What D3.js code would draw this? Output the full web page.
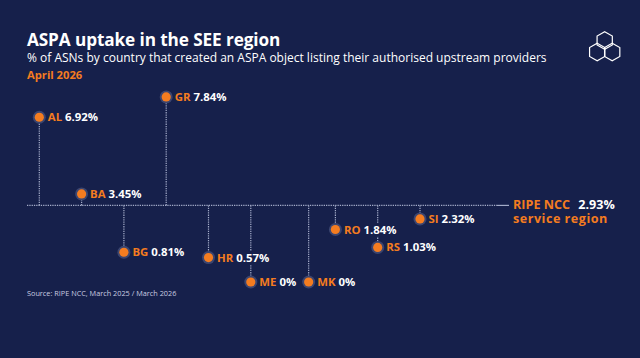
<!DOCTYPE html>
<html>
<head>
<meta charset="utf-8">
<script src="https://cdn.jsdelivr.net/npm/d3@7"></script>
<style>
  html, body { margin: 0; padding: 0; background: #16204b; }
  svg { display: block; }
  text { font-family: "Open Sans", Lato, sans-serif; }
</style>
</head>
<body>
<svg id="chart" width="640" height="358"></svg>
<script>
// ---- data ----
const countries = ["AL", "BA", "BG", "GR", "HR", "ME", "MK", "RO", "RS", "SI"];
const values    = [6.92, 3.45, 0.81, 7.84, 0.57, 0, 0, 1.84, 1.03, 2.32];
const regionName = "RIPE NCC";
const regionSub = "service region";
const regionValue = 2.93;
const title = "ASPA uptake in the SEE region";
const subtitle = "% of ASNs by country that created an ASPA object listing their authorised upstream providers";
const period = "April 2026";
const source = "Source:  RIPE NCC, March 2025 / March 2026";

// ---- styles ----
const BG = "#16204b", ORANGE = "#f47c20", WHITE = "#ffffff", LINE = "#a3abc8";
const svg = d3.select("#chart");
svg.append("rect").attr("width", 640).attr("height", 358).attr("fill", BG);

// titles
svg.append("text").attr("x", 27).attr("y", 46).attr("fill", WHITE)
  .attr("font-size", 17.2).attr("font-weight", 700).attr("letter-spacing", -0.1).text(title);
svg.append("text").attr("x", 27).attr("y", 62).attr("fill", WHITE)
  .attr("font-size", 12).text(subtitle);
svg.append("text").attr("x", 27).attr("y", 79).attr("fill", ORANGE)
  .attr("font-size", 11.2).attr("font-weight", 700).text(period);
svg.append("text").attr("x", 27).attr("y", 296).attr("fill", "#c9cde0")
  .attr("font-size", 7.3).text(source);

// logo: three overlapping hexagons
const hex = (cx, cy, r) => d3.range(6).map(i => {
  const a = Math.PI / 180 * (60 * i - 90);
  return [cx + r * Math.cos(a), cy + r * Math.sin(a)];
});
const logo = svg.append("g").attr("fill", "none").attr("stroke", WHITE).attr("stroke-width", 1.2);
[[604.7, 40.5], [597.2, 52], [612.2, 52]].forEach(([x, y]) => {
  logo.append("polygon").attr("points", hex(x, y, 8.8).map(p => p.join(",")).join(" "));
});

// ---- scales ----
const x = d3.scalePoint().domain(countries).range([39.3, 420]);
const y = d3.scaleLinear().domain([0, 0.5, 8]).range([282, 259.1, 93.4]);
const baseY = y(regionValue);

const fmt = v => (v === 0 ? "0" : v.toFixed(2)) + "%";

// data rows with simple label collision nudge
const labelFont = 11.4;
const measure = svg.append("text").attr("font-size", labelFont).attr("font-weight", 700).attr("opacity", 0);
function textW(s) { measure.text(s); return measure.node().getComputedTextLength(); }
const rows = [];
countries.forEach((c, i) => {
  const r = { c, v: values[i], x: x(c), y: y(values[i]) };
  const prev = rows[rows.length - 1];
  if (prev && Math.abs(prev.y - r.y) < 14 && r.x - 6.5 < prev.labelEnd + 6) {
    r.x = prev.labelEnd + 6 + 6.5;
  }
  r.labelEnd = r.x + 8.5 + textW(c + " " + fmt(r.v));
  rows.push(r);
});
measure.remove();

// baseline
svg.append("line").attr("x1", 27).attr("x2", 497).attr("y1", baseY).attr("y2", baseY)
  .attr("stroke", LINE).attr("stroke-width", 1.3).attr("stroke-dasharray", "1.3,1");
svg.append("line").attr("x1", 497).attr("x2", 509).attr("y1", baseY).attr("y2", baseY)
  .attr("stroke", LINE).attr("stroke-width", 1.2);

// stems
svg.append("g").selectAll("line").data(rows).join("line")
  .attr("x1", d => d.x).attr("x2", d => d.x)
  .attr("y1", baseY).attr("y2", d => d.y)
  .attr("stroke", LINE).attr("stroke-width", 1.2).attr("stroke-dasharray", "1.3,1");

// labels with halo
const lab = svg.append("g").selectAll("text").data(rows).join("text")
  .attr("x", d => d.x + 8.5).attr("y", d => d.y).attr("dy", "0.36em")
  .attr("font-size", labelFont).attr("font-weight", 700)
  .attr("stroke", BG).attr("stroke-width", 6).attr("paint-order", "stroke")
  .attr("stroke-linejoin", "round");
lab.append("tspan").attr("fill", ORANGE).text(d => d.c);
lab.append("tspan").attr("fill", WHITE).text(d => " " + fmt(d.v));

// dots
const dots = svg.append("g").selectAll("g").data(rows).join("g")
  .attr("transform", d => `translate(${d.x},${d.y})`);
dots.append("circle").attr("r", 6.5).attr("fill", "#3b4570");
dots.append("circle").attr("r", 4.6).attr("fill", ORANGE);

// region label (one text block, two lines)
const rl = svg.append("text").attr("x", 513).attr("y", baseY + 3.4)
  .attr("font-size", 12.6).attr("font-weight", 700);
rl.append("tspan").attr("fill", ORANGE).text(regionName);
rl.append("tspan").attr("fill", WHITE).attr("dx", 5).text(" " + regionValue.toFixed(2) + "%");
rl.append("tspan").attr("x", 513).attr("dy", 14.4).attr("fill", ORANGE)
  .attr("letter-spacing", 0.5).text(regionSub);
</script>
</body>
</html>
